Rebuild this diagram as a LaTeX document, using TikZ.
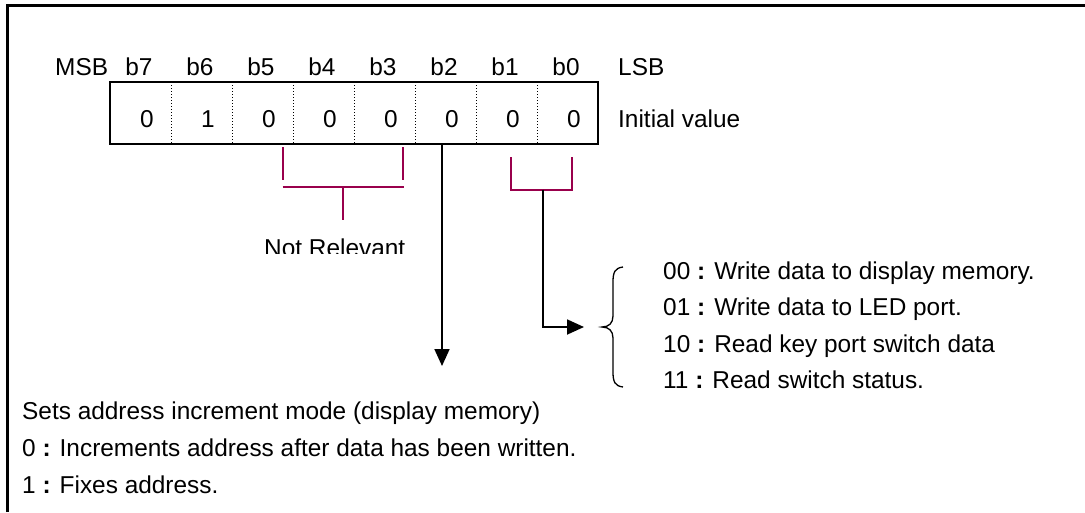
\documentclass[tikz,border=0pt]{standalone}
\usepackage{fontspec}
\setmainfont{Liberation Sans}
\usetikzlibrary{arrows.meta}
\definecolor{brk}{RGB}{153,0,76}
\begin{document}
\begin{tikzpicture}[x=1pt,y=-1pt,
  txt/.style={anchor=base west,inner sep=0pt,font=\fontsize{24.4}{28}\selectfont},
  lbl/.style={anchor=base,inner sep=0pt,font=\fontsize{24.4}{28}\selectfont},
  cellbox/.style={minimum width=61pt,minimum height=62pt,inner sep=0pt,outer sep=0pt},
  brkline/.style={draw=brk,line width=2pt},
  conn/.style={draw=black,line width=1.8pt},
  tipend/.style={-{Triangle[length=17pt,width=15pt]}}
]
\useasboundingbox (0,0) rectangle (1085,512);
% frame
\draw[line width=3pt] (7,512) -- (7,5) -- (1085,5);
% register cells, header labels, values
\foreach \b/\v [count=\i from 0] in {7/0,6/1,5/0,4/0,3/0,2/0,1/0,0/0}{
  \node[cellbox] (c\b) at ({140.5+61*\i},113) {};
  \node[lbl] (h\b) at ({139+61*\i},75) {b\b};
  \node[lbl] (v\b) at ({147+61*\i},127) {\v};
}
\draw[line width=1.6pt] (c7.north west) rectangle (c0.south east);
\foreach \b in {7,...,1}{
  \draw[dotted,line width=1pt] (c\b.north east) -- (c\b.south east);
}
\node[txt] (msb) at (55,75) {MSB};
\node[txt] (lsb) at (618,75) {LSB};
\node[txt] (init) at (618,127) {Initial value};
% Not relevant bracket
\coordinate (nrA) at (282.5,147);
\coordinate (nrB) at (402.5,147);
\draw[brkline] (nrA) -- ++(0,33);
\draw[brkline] (nrB) -- ++(0,33);
\coordinate (nrL) at (282.5,187);
\coordinate (nrR) at (403.5,187);
\coordinate (nrS) at (343,187);
\coordinate (nrE) at (343,220);
\draw[brkline] (nrL) -- (nrR);
\draw[brkline] (nrS) -- (nrE);
\begin{scope}
  \clip (240,225) rectangle (430,253);
  \node[txt] (nr) at (264,256) {Not Relevant};
\end{scope}
% b1-b0 bracket
\coordinate (mA) at (511,157);
\coordinate (mB) at (572,157);
\draw[brkline] (mA) -- (511,189.5) -- (572,189.5) -- (mB);
% mode connector
\coordinate (mS) at (543,189.5);
\coordinate (bracetip) at (602,327);
\coordinate (mT) at (584,327);
\draw[conn,tipend] (mS) |- (mT);
% b2 arrow
\coordinate (b2top) at (442,144.5);
\coordinate (b2tip) at (442,366);
\draw[conn,tipend] (b2top) -- (b2tip);
% brace
\draw[line width=1.3pt] (623,267) .. controls (615,268) and (613,272) .. (613,282) -- (613,316)
  .. controls (613,323) and (609,327) .. (bracetip)
  .. controls (609,327) and (613,331) .. (613,338) -- (613,372)
  .. controls (613,382) and (615,386) .. (623,387);
% brace texts
\node[txt] (m00) at (663,279) {00 \textbf{:} Write data to display memory.};
\node[txt] (m01) at (663,315.5) {01 \textbf{:} Write data to LED port.};
\node[txt] (m10) at (663,352) {10 \textbf{:} Read key port switch data};
\node[txt] (m11) at (663,388) {11 \textbf{:} Read switch status.};
% bottom texts
\node[txt] (s0) at (22,419) {Sets address increment mode (display memory)};
\node[txt] (s1) at (22,456.5) {0 \textbf{:} Increments address after data has been written.};
\node[txt] (s2) at (22,493) {1 \textbf{:} Fixes address.};
\end{tikzpicture}
\end{document}
